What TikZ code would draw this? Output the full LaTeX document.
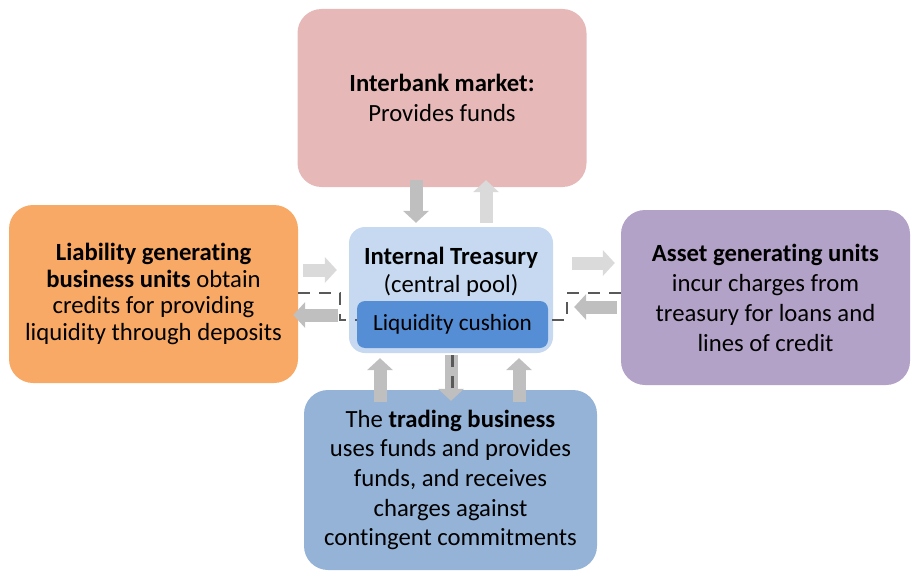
\documentclass[tikz,border=0pt]{standalone}
\usepackage{fontspec}
\setmainfont{Carlito}[Ligatures=NoCommon]
\usetikzlibrary{arrows.meta}

\definecolor{ibpink}{HTML}{E6B9B8}
\definecolor{lborange}{HTML}{F8A966}
\definecolor{agpurple}{HTML}{B3A2C7}
\definecolor{tbblue}{HTML}{95B3D7}
\definecolor{trblue}{HTML}{C6D9F1}
\definecolor{lcblue}{HTML}{558ED5}
\definecolor{arrowdark}{HTML}{BFBFBF}
\definecolor{arrowlight}{HTML}{DADADA}
\definecolor{dashgray}{HTML}{595959}

\tikzset{
  unit/.style={rounded corners=24pt, minimum width=289pt, minimum height=178pt,
    align=center, inner sep=0pt, font=\fontsize{24.7}{29.7}\selectfont},
  fatarrow/.style={line width=13pt, -{Triangle[width=26pt,length=12pt,line width=0pt]}},
  dashline/.style={draw=dashgray, line width=2.5pt, dash pattern=on 12pt off 9pt},
}

\begin{document}
\begin{tikzpicture}[x=1pt,y=-1pt]
    \useasboundingbox (0,0) rectangle (918,583);

    \node[unit, fill=ibpink, font=\fontsize{24.7}{30}\selectfont] at (442,98) (ib)
        {\textbf{Interbank market:}\\Provides funds};
    \node[unit, fill=lborange, font=\fontsize{24.7}{26.7}\selectfont] at (153.5,294) (lb)
        {\textbf{Liability generating}\\\textbf{business units} obtain\\credits for providing\\liquidity through deposits};
    \node[unit, fill=agpurple, minimum height=175pt, font=\fontsize{24.7}{30}\selectfont] at (765.5,297.5) (ag)
        {\textbf{Asset generating units}\\incur charges from\\treasury for loans and\\lines of credit};
    \node[unit, fill=tbblue, minimum width=293pt, minimum height=180pt] at (450.5,480) (tb)
        {The \textbf{trading business}\\uses funds and provides\\funds, and receives\\charges against\\contingent commitments};

    \node[rounded corners=16pt, fill=trblue, minimum width=204pt, minimum height=126pt] at (451,290) (tr) {};
    \node[align=center, inner sep=0pt, font=\fontsize{24.7}{28}\selectfont] at (451,271.5) (trtext)
        {\textbf{Internal Treasury}\\(central pool)};
    \node[rounded corners=8pt, fill=lcblue, minimum width=191pt, minimum height=47pt,
        font=\fontsize{23.2}{26}\selectfont] at (452.5,324.5) (lc) {Liquidity cushion};

    \draw[fatarrow, arrowdark, shorten <=-7pt, shorten >=4pt] (ib.south -| 416,0) -- (tr.north -| 416,0);
    \draw[fatarrow, arrowlight, shorten <=4pt, shorten >=-7pt] (tr.north -| 486,0) -- (ib.south -| 486,0);
    \draw[fatarrow, arrowlight, shorten <=5pt, shorten >=12pt] (lb.east |- 0,270) -- (tr.west |- 0,270);
    \draw[fatarrow, arrowdark, shorten <=11pt, shorten >=-5pt] (tr.west |- 0,315) -- (lb.east |- 0,315);
    \draw[fatarrow, arrowlight, shorten <=19pt, shorten >=6pt] (tr.east |- 0,263) -- (ag.west |- 0,263);
    \draw[fatarrow, arrowdark, shorten <=4pt, shorten >=21pt] (ag.west |- 0,307) -- (tr.east |- 0,307);
    \draw[fatarrow, arrowdark, shorten <=-12pt, shorten >=5pt] (tb.north -| 380,0) -- (tr.south -| 380,0);
    \draw[fatarrow, arrowdark, shorten <=-12pt, shorten >=5pt] (tb.north -| 519,0) -- (tr.south -| 519,0);
    \draw[fatarrow, arrowdark, shorten <=2pt, shorten >=-11pt] (tr.south -| 451,0) -- (tb.north -| 451,0);

    \draw[dashline] ([yshift=1pt]lb.east) -- ++(42,0) |- ([yshift=4.5pt]lc.west);
    \draw[dashline] ([yshift=4.5pt]ag.west) -- ++(-54,0) |- ([yshift=4.5pt]lc.east);
    \draw[dashline, shorten <=7pt] (lc.south) -- (lc.south |- tb.north);

\end{tikzpicture}
\end{document}
